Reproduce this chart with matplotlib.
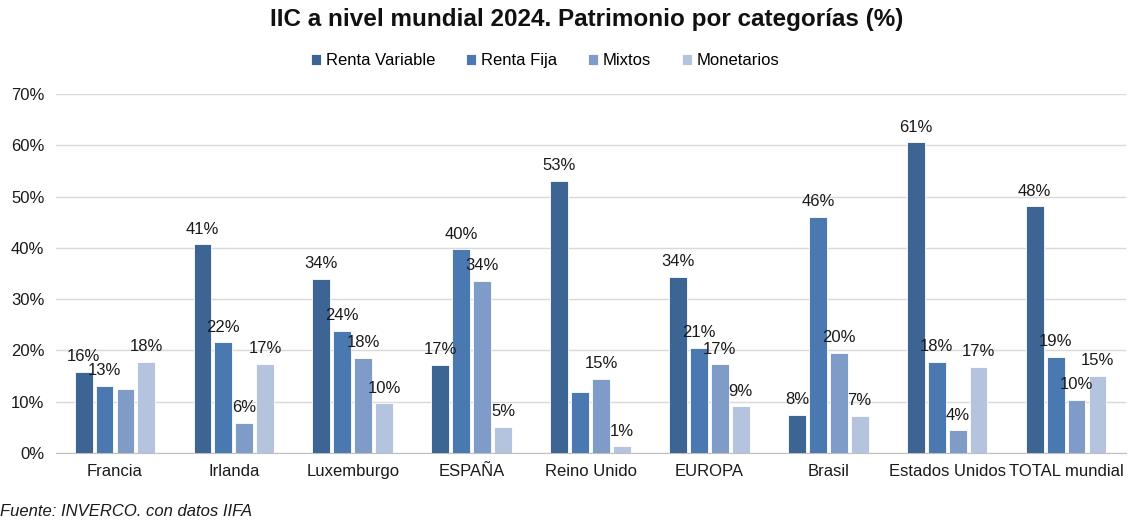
import numpy as np
import matplotlib
matplotlib.use("Agg")
import matplotlib.pyplot as plt
from matplotlib.ticker import FuncFormatter

plt.rcParams['font.family'] = ['Liberation Sans', 'DejaVu Sans']

# data (%)
categories = ['Francia', 'Irlanda', 'Luxemburgo', 'ESPAÑA', 'Reino Unido',
              'EUROPA', 'Brasil', 'Estados Unidos', 'TOTAL mundial']
series = ['Renta Variable', 'Renta Fija', 'Mixtos', 'Monetarios']
renta_variable = [15.8, 40.7, 33.9, 17.2, 53.0, 34.4, 7.5, 60.6, 48.1]
renta_fija = [13.1, 21.6, 23.8, 39.7, 11.9, 20.5, 46.1, 17.8, 18.8]
mixtos = [12.4, 5.9, 18.5, 33.5, 14.5, 17.3, 19.5, 4.4, 10.4]
monetarios = [17.8, 17.4, 9.7, 5.1, 1.3, 9.1, 7.3, 16.8, 15.1]
# labels shown on the chart (None = no label)
lab_rv = ['16%', '41%', '34%', '17%', '53%', '34%', '8%', '61%', '48%']
lab_rf = ['13%', '22%', '24%', '40%', None, '21%', '46%', '18%', '19%']
lab_mx = [None, '6%', '18%', '34%', '15%', '17%', '20%', '4%', '10%']
lab_mo = ['18%', '17%', '10%', '5%', '1%', '9%', '7%', '17%', '15%']

colors = ['#3d6594', '#4a79b1', '#7f9cc8', '#b4c4df']
values = [renta_variable, renta_fija, mixtos, monetarios]
labels = [lab_rv, lab_rf, lab_mx, lab_mo]

fig = plt.figure(figsize=(11.29, 5.21), dpi=100)
ax = fig.add_axes([0.0492, 0.1305, 0.9477, 0.6891])

x = np.arange(len(categories))
step = 0.176
width = 0.15
for i, (name, vals, labs, c) in enumerate(zip(series, values, labels, colors)):
    pos = x + (i - 1.5) * step
    ax.bar(pos, vals, width=width, color=c, edgecolor='white', linewidth=0.6,
           label=name, zorder=3)
    for p, v, t in zip(pos, vals, labs):
        if t:
            ax.text(p, v + 1.5, t, ha='center', va='bottom', fontsize=12,
                    color='#1a1a1a', zorder=4)

ax.set_xlim(-0.5, len(categories) - 0.5)
ax.set_ylim(0, 70)
ax.set_yticks(range(0, 71, 10))
ax.yaxis.set_major_formatter(FuncFormatter(lambda v, _: f'{v:.0f}%'))
ax.set_xticks(x)
ax.set_xticklabels(categories)
ax.tick_params(axis='both', length=0, labelsize=12, colors='#1a1a1a')
ax.tick_params(axis='x', pad=8)
ax.tick_params(axis='y', pad=8)
ax.grid(axis='y', color='#d9d9d9', linewidth=1, zorder=0)
for s in ['top', 'right', 'left']:
    ax.spines[s].set_visible(False)
ax.spines['bottom'].set_color('#bfbfbf')

fig.suptitle('IIC a nivel mundial 2024. Patrimonio por categorías (%)',
             fontsize=17.5, fontweight='bold', x=0.52, y=0.985, color='#111111')
fig.legend(loc='center', bbox_to_anchor=(0.483, 0.883), ncol=4, frameon=False,
           fontsize=12, handlelength=0.6, handleheight=0.6, handletextpad=0.3,
           columnspacing=1.85)
fig.text(0.0, 0.003, 'Fuente: INVERCO. con datos IIFA', fontsize=12,
         style='italic', ha='left', va='bottom', color='#1a1a1a')

fig.savefig('out.png', dpi=100)
